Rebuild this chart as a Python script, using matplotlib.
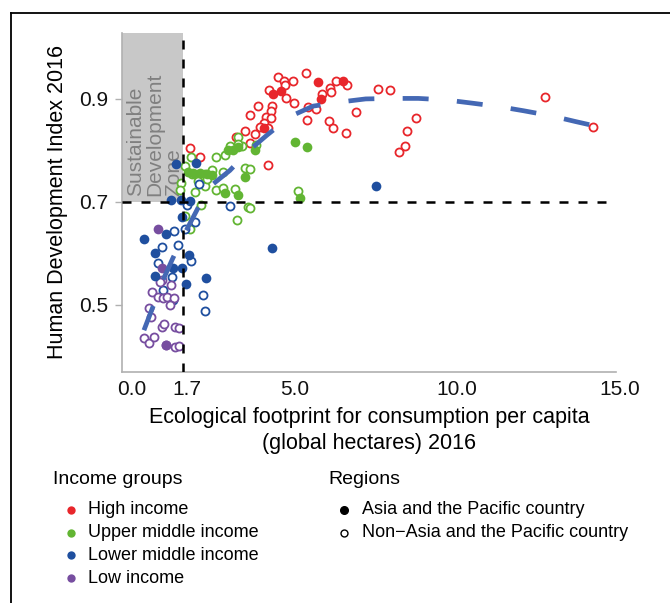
import matplotlib.pyplot as plt
from matplotlib.lines import Line2D
from matplotlib.patches import Rectangle
from matplotlib.transforms import ScaledTranslation

plt.rcParams["font.family"] = ["Liberation Sans", "DejaVu Sans"]

# High income
high_open_x = [4.62, 4.80, 4.83, 5.08, 5.48, 4.34, 4.86, 5.11, 4.02, 4.43, 4.42, 3.75, 4.25, 4.40, 4.18,
               4.06, 4.31, 3.60, 3.34, 3.92, 3.77, 1.91, 2.23, 4.31, 5.54, 5.78, 5.53, 5.99, 6.22, 6.25,
               6.42, 6.76, 6.19, 6.32, 6.73, 7.02, 7.70, 8.06, 8.86, 8.58, 8.52, 8.34, 12.83, 14.32]
high_open_y = [0.943, 0.934, 0.927, 0.935, 0.950, 0.917, 0.901, 0.892, 0.886, 0.886, 0.877, 0.868, 0.865, 0.863, 0.854,
               0.846, 0.843, 0.838, 0.827, 0.831, 0.814, 0.805, 0.788, 0.772, 0.885, 0.880, 0.859, 0.909, 0.921, 0.914,
               0.934, 0.927, 0.857, 0.844, 0.833, 0.874, 0.919, 0.917, 0.863, 0.838, 0.809, 0.796, 0.903, 0.846]
high_fill_x = [4.46, 4.72, 5.86, 6.61, 5.96, 4.18]
high_fill_y = [0.909, 0.916, 0.932, 0.934, 0.899, 0.843]

# Upper middle income
upper_open_x = [1.96, 2.71, 2.98, 3.38, 3.53, 3.14, 3.40, 3.96, 1.75, 1.65, 1.98, 2.37, 2.58, 2.93, 3.60, 3.75,
                2.06, 2.37, 2.73, 2.93, 3.29, 1.60, 2.27, 3.70, 3.36, 1.75, 1.91, 5.24, 3.75, 2.15, 2.45]
upper_open_y = [0.788, 0.788, 0.791, 0.827, 0.809, 0.809, 0.812, 0.811, 0.769, 0.736, 0.754, 0.754, 0.762, 0.759, 0.765, 0.763,
                0.720, 0.730, 0.723, 0.727, 0.725, 0.723, 0.694, 0.690, 0.665, 0.673, 0.647, 0.722, 0.689, 0.740, 0.744]
upper_fill_x = [3.09, 3.24, 3.39, 3.91, 3.60, 5.14, 5.50, 1.85, 2.00, 2.22, 2.43, 2.59, 2.98, 3.38, 5.29]
upper_fill_y = [0.801, 0.801, 0.806, 0.801, 0.749, 0.817, 0.807, 0.758, 0.756, 0.756, 0.754, 0.752, 0.717, 0.714, 0.707]

# Lower middle income
lower_open_x = [2.18, 1.81, 1.42, 1.75, 1.04, 1.55, 3.14, 2.06, 1.96, 0.93, 1.36, 1.09, 1.39, 2.32, 2.39]
lower_open_y = [0.734, 0.694, 0.644, 0.647, 0.613, 0.617, 0.692, 0.661, 0.586, 0.581, 0.555, 0.530, 0.510, 0.519, 0.489]
lower_fill_x = [2.11, 1.50, 1.34, 1.65, 1.93, 1.68, 0.49, 1.17, 0.85, 1.89, 1.68, 0.83, 1.40, 2.42, 4.45, 7.63, 1.78]
lower_fill_y = [0.775, 0.774, 0.704, 0.703, 0.702, 0.670, 0.628, 0.637, 0.600, 0.597, 0.571, 0.556, 0.571, 0.553, 0.610, 0.730, 0.541]

# Low income
low_open_x = [1.07, 1.32, 0.75, 0.93, 1.09, 1.22, 1.42, 0.66, 0.73, 1.04, 1.12, 1.45, 1.57, 0.49, 0.66, 0.80,
              1.17, 1.45, 1.58, 1.00, 1.30]
low_open_y = [0.549, 0.539, 0.526, 0.516, 0.513, 0.516, 0.513, 0.495, 0.477, 0.457, 0.463, 0.457, 0.456, 0.435, 0.427, 0.437,
              0.422, 0.419, 0.421, 0.545, 0.500]
low_fill_x = [0.93, 1.04, 1.19]
low_fill_y = [0.647, 0.571, 0.422]

# fitted trend
fit_x = [0.5, 0.78, 1.09, 1.39, 1.78, 2.16, 2.57, 3.14, 3.75, 4.29, 5.0, 5.7, 6.54, 7.32, 8.16, 8.94,
         9.8, 10.57, 11.43, 12.18, 13.04, 13.78, 14.2]
fit_y = [0.451, 0.497, 0.549, 0.591, 0.642, 0.688, 0.732, 0.761, 0.801, 0.830, 0.866, 0.886, 0.894, 0.900, 0.901, 0.901,
         0.898, 0.892, 0.885, 0.877, 0.867, 0.856, 0.850]

sdz_x = 1.7
sdz_y = 0.7
x_ticks = [0.0, 1.7, 5.0, 10.0, 15.0]
y_ticks = [0.5, 0.7, 0.9]

groups = ["High income", "Upper middle income", "Lower middle income", "Low income"]
colors = ["#e8262b", "#62b533", "#1f4f9f", "#774ea0"]
series = [
    (high_open_x, high_open_y, high_fill_x, high_fill_y),
    (upper_open_x, upper_open_y, upper_fill_x, upper_fill_y),
    (lower_open_x, lower_open_y, lower_fill_x, lower_fill_y),
    (low_open_x, low_open_y, low_fill_x, low_fill_y),
]

fig = plt.figure(figsize=(6.7, 6.03), dpi=100)
ax = fig.add_axes([0.1821, 0.3836, 0.7373, 0.5617])
ax.set_xlim(-0.175, 15.02)
ax.set_ylim(0.3705, 1.028)

# sustainable development zone
ax.add_patch(Rectangle((-0.175, sdz_y), sdz_x + 0.175, 1.028 - sdz_y, color="#c8c8c8", lw=0, zorder=0))
ax.text(-0.05, sdz_y + 0.012, "Sustainable\nDevelopment\nZone", rotation=90, ha="left", va="bottom",
        multialignment="left", linespacing=1.0, fontsize=15, color="#808080", zorder=1)

for (ox, oy, fx, fy), c in zip(series, colors):
    ax.plot(ox, oy, "o", ms=5.8, mfc="white", mec=c, mew=1.3, zorder=3)
    ax.plot(fx, fy, "o", ms=7.0, mfc=c, mec="none", zorder=4)

ax.axhline(sdz_y, color="black", lw=1.8, ls=(0, (3.6, 4)), zorder=5)
ax.axvline(sdz_x, color="black", lw=1.8, ls=(0, (3.6, 4)), zorder=5)

ax.plot(fit_x, fit_y, color="#4468b4", lw=3.4, ls=(0, (5.5, 6)), solid_capstyle="butt", zorder=6)

ax.set_xticks(x_ticks)
ax.set_xticklabels([f"{v:.1f}" for v in x_ticks])
ax.set_yticks(y_ticks)
ax.set_yticklabels([f"{v:.1f}" for v in y_ticks])
ax.tick_params(axis="x", length=0, pad=6, labelsize=15, labelcolor="#111111")
ax.tick_params(axis="y", length=5, width=1, color="#b0b0b0", pad=5, labelsize=15, labelcolor="#111111")
shift = ScaledTranslation(4 / 100, 0, fig.dpi_scale_trans)
for lab in ax.get_xticklabels():
    lab.set_transform(lab.get_transform() + shift)
for s in ["top", "right"]:
    ax.spines[s].set_visible(False)
for s in ["left", "bottom"]:
    ax.spines[s].set_color("#b0b0b0")
    ax.spines[s].set_linewidth(1.2)

ax.set_xlabel("Ecological footprint for consumption per capita\n(global hectares) 2016", fontsize=15.5,
              labelpad=6, linespacing=1.3)
ax.set_ylabel("Human Development Index 2016", fontsize=15.5, labelpad=8)

# legend blocks
W, H = 670, 603
fig.text(53 / W, 1 - 479 / H, "Income groups", fontsize=14, va="center", ha="left")
for i, (g, c) in enumerate(zip(groups, colors)):
    yy = 1 - (510 + 22.7 * i) / H
    fig.add_artist(Line2D([71 / W], [yy], marker="o", ms=6, mfc=c, mec="none", transform=fig.transFigure))
    fig.text(88 / W, yy, g, fontsize=13, va="center", ha="left")

fig.text(328 / W, 1 - 479 / H, "Regions", fontsize=14, va="center", ha="left")
region_labels = ["Asia and the Pacific country", "Non\u2212Asia and the Pacific country"]
for i, lab in enumerate(region_labels):
    yy = 1 - (510 + 22.7 * i) / H
    face = "black" if i == 0 else "white"
    fig.add_artist(Line2D([344 / W], [yy], marker="o", ms=5.5 if i == 0 else 5, mfc=face, mec="black",
                          mew=1.0, transform=fig.transFigure))
    fig.text(362 / W, yy, lab, fontsize=13, va="center", ha="left")

# frame lines on the left and top
fig.add_artist(Line2D([11 / W, 11 / W], [0, 1 - 13 / H], color="black", lw=1.3, transform=fig.transFigure))
fig.add_artist(Line2D([11 / W, 1], [1 - 13 / H, 1 - 13 / H], color="black", lw=1.3, transform=fig.transFigure))

fig.savefig("out.png", dpi=100)
